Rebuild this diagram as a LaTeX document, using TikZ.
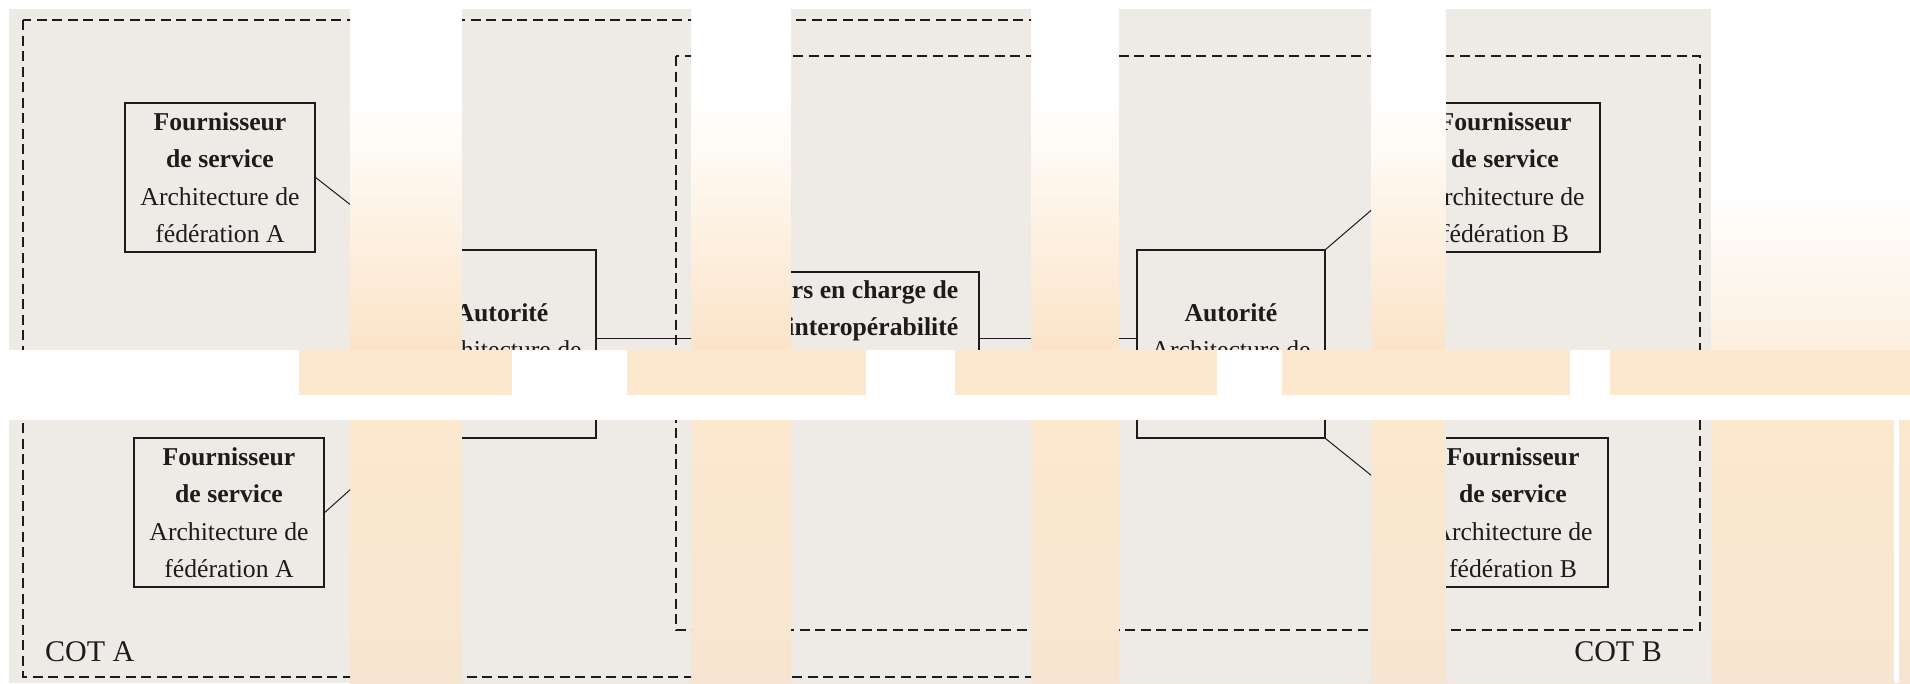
\documentclass[tikz,border=0pt]{standalone}
\usepackage{fontspec}
\setmainfont{Liberation Serif}
\usepackage{xcolor}
\usepackage{tikz}
\usetikzlibrary{positioning,calc}
\definecolor{panelgrey}{RGB}{238,235,230}
\definecolor{ink}{RGB}{28,28,28}
\definecolor{glow}{RGB}{251,228,200}
\definecolor{paleglow}{RGB}{252,232,207}
\definecolor{faintglow}{RGB}{252,239,224}
\definecolor{paper}{RGB}{246,229,208}

\begin{document}
\begin{tikzpicture}[x=1pt,y=-1pt,
  box/.style={draw=ink,line width=1.3pt,fill=panelgrey,align=center,text=ink,inner sep=0pt,font=\fontsize{25.7}{37.5}\selectfont},
  prov/.style={box,minimum width=190pt,minimum height=149pt},
  auth/.style={box,minimum width=188pt,text height=146pt,text depth=42pt},
  cot/.style={draw=ink,line width=1.3pt,dash pattern=on 10pt off 5.5pt},
  link/.style={draw=ink,line width=1pt},
  lbl/.style={font=\fontsize{30}{36}\selectfont,text=ink,inner sep=0pt}]
  \useasboundingbox (0,0) rectangle (1910,683);
  % background behind the strips
  \fill[white] (0,0) rectangle (1910,683);
  \shade[top color=white,bottom color=glow] (350,100) rectangle (1446,350);
  \shade[top color=white,bottom color=faintglow] (1711,190) rectangle (1910,350);
  \shade[top color=paleglow,bottom color=paper] (350,420) rectangle (1910,683);
  \fill[white] (1894,350) rectangle (1899,683);
  \foreach \xa/\xb in {9/350,462/691,791/1031,1119/1371,1446/1711} {
    \fill[panelgrey] (\xa,9) rectangle (\xb,350);
    \fill[panelgrey] (\xa,420) rectangle (\xb,683);
  }
  % diagram, seen only through the panels
  \begin{scope}
    \clip (9,9) rectangle (350,350) (462,9) rectangle (691,350) (791,9) rectangle (1031,350)
      (1119,9) rectangle (1371,350) (1446,9) rectangle (1711,350)
      (9,420) rectangle (350,683) (462,420) rectangle (691,683) (791,420) rectangle (1031,683)
      (1119,420) rectangle (1371,683) (1446,420) rectangle (1711,683);
    \draw[cot] (23,20) rectangle (1075,677);
    \draw[cot] (676,56) rectangle (1700,630);
    \node[prov] (fa1) at (220,177.5) {\textbf{Fournisseur}\\\textbf{de service}\\Architecture de\\fédération A};
    \node[prov] (fa2) at (229,512.5) {\textbf{Fournisseur}\\\textbf{de service}\\Architecture de\\fédération A};
    \node[auth] (autA) at (502,344) {\textbf{Autorité}\\Architecture de\\fédération A};
    \node[box,align=right,minimum width=272pt,text height=63.5pt,text depth=68.5pt] (inter) at (843,338) {\textbf{Acteurs en charge de}\\\textbf{l'interopérabilité}};
    \node[auth] (autB) at (1231,344) {\textbf{Autorité}\\Architecture de\\fédération B};
    \node[prov] (fb1) at (1505,177.5) {\textbf{Fournisseur}\\\textbf{de service}\\Architecture de\\fédération B};
    \node[prov] (fb2) at (1513,512.5) {\textbf{Fournisseur}\\\textbf{de service}\\Architecture de\\fédération B};
    \draw[link] (fa1.east) -- (autA.north west);
    \draw[link] (fa2.east) -- (autA.south west);
    \draw[link] (autB.north east) -- (fb1.west);
    \draw[link] (autB.south east) -- (fb2.west);
    \draw[link] (inter.west) -- (inter.west -| autA.east);
    \draw[link] (inter.east) -- (inter.east -| autB.west);
    \node[lbl,anchor=west] (cotA) at (45,652) {COT A};
    \node[lbl,anchor=east] (cotB) at (1662,652) {COT B};
  \end{scope}
  % band between the two rows
  \fill[white] (0,350) rectangle (1910,420);
  \foreach \xa/\xb in {299/512,627/866,955/1217,1282/1570,1610/1910}
    \fill[paleglow] (\xa,350) rectangle (\xb,395);
\end{tikzpicture}
\end{document}
